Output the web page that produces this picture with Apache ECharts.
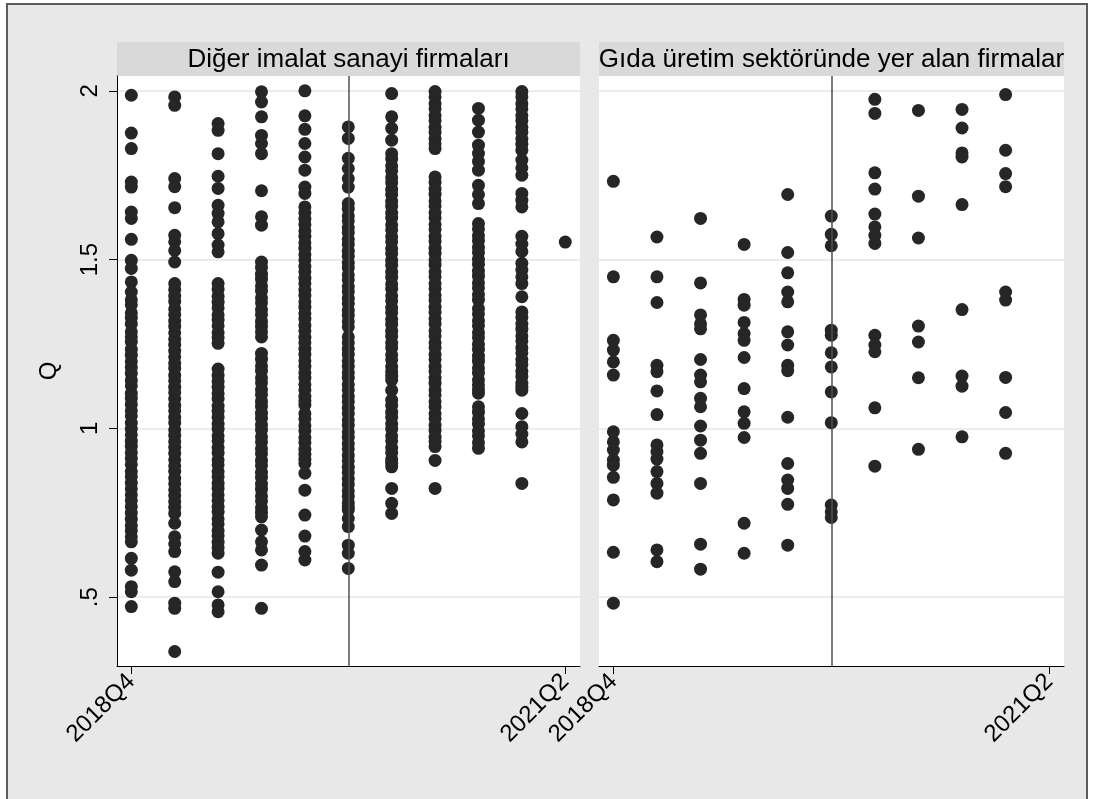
<!DOCTYPE html>
<html>
<head>
<meta charset="utf-8">
<script src="https://cdn.jsdelivr.net/npm/echarts@6/dist/echarts.min.js"></script>
<style>
  body { margin: 0; background: #fff; }
  #frame { position: absolute; left: 6px; top: 3px; width: 1082px; height: 820px; background: #e8e8e8; border: 2px solid #5c5c5c; box-sizing: border-box; }
  #chart { position: absolute; left: 0; top: 0; width: 1093px; height: 799px; }
</style>
</head>
<body>
<div id="frame"></div>
<div id="chart"></div>
<script>
// quarters on the x axis (0 = 2018Q4)
var quarters = ['2018Q4','2019Q1','2019Q2','2019Q3','2019Q4','2020Q1','2020Q2','2020Q3','2020Q4','2021Q1','2021Q2'];
var xTicks = [0, 10];
var yTicks = [0.5, 1, 1.5, 2];
var breakQuarter = 5; // 2020Q1
var panelTitles = ['Diğer imalat sanayi firmaları', 'Gıda üretim sektöründe yer alan firmalar'];

// Q by quarter, other manufacturing firms
var diger = [
  [1.987,1.875,1.829,1.730,1.715,1.641,1.622,1.560,1.498,1.474,1.434,1.404,1.381,1.366,1.342,1.327,1.309,1.286,1.271,1.256,1.234,1.217,1.198,1.181,1.163,1.142,1.126,1.104,1.089,1.071,1.052,1.037,1.016,0.998,0.981,0.962,0.947,0.928,0.911,0.893,0.872,0.857,0.838,0.821,0.803,0.786,0.768,0.749,0.731,0.712,0.697,0.679,0.664,0.615,0.580,0.531,0.516,0.472],
  [1.982,1.957,1.740,1.716,1.654,1.572,1.553,1.527,1.493,1.429,1.411,1.392,1.376,1.354,1.337,1.318,1.302,1.283,1.264,1.247,1.229,1.212,1.193,1.178,1.157,1.141,1.122,1.106,1.087,1.068,1.052,1.033,1.017,0.996,0.979,0.961,0.944,0.926,0.907,0.889,0.873,0.852,0.836,0.818,0.801,0.783,0.766,0.748,0.719,0.679,0.658,0.635,0.575,0.546,0.482,0.467,0.339],
  [1.903,1.883,1.814,1.747,1.711,1.661,1.637,1.612,1.577,1.543,1.523,1.429,1.412,1.391,1.374,1.357,1.336,1.321,1.304,1.284,1.269,1.252,1.176,1.157,1.139,1.122,1.103,1.087,1.066,1.051,1.033,1.013,0.998,0.978,0.963,0.943,0.927,0.907,0.892,0.872,0.857,0.837,0.822,0.803,0.786,0.767,0.752,0.732,0.717,0.697,0.682,0.663,0.647,0.630,0.574,0.516,0.477,0.457],
  [1.997,1.967,1.923,1.868,1.844,1.814,1.704,1.627,1.602,1.493,1.477,1.457,1.442,1.422,1.407,1.387,1.372,1.352,1.337,1.317,1.302,1.286,1.271,1.222,1.205,1.185,1.170,1.150,1.135,1.115,1.100,1.080,1.065,1.045,1.030,1.010,0.995,0.975,0.960,0.940,0.925,0.905,0.890,0.870,0.855,0.835,0.820,0.800,0.785,0.765,0.751,0.738,0.699,0.664,0.640,0.595,0.467],
  [2.000,1.926,1.886,1.844,1.804,1.765,1.715,1.696,1.656,1.639,1.620,1.604,1.585,1.569,1.550,1.534,1.515,1.499,1.480,1.464,1.445,1.429,1.410,1.394,1.375,1.359,1.340,1.324,1.305,1.289,1.270,1.254,1.235,1.219,1.200,1.184,1.165,1.149,1.130,1.114,1.095,1.082,1.069,1.044,1.028,1.008,0.993,0.973,0.958,0.938,0.923,0.908,0.896,0.867,0.817,0.743,0.681,0.635,0.610],
  [1.893,1.859,1.800,1.770,1.740,1.715,1.666,1.650,1.630,1.615,1.595,1.580,1.560,1.545,1.525,1.510,1.490,1.475,1.455,1.440,1.420,1.405,1.385,1.370,1.350,1.335,1.316,1.301,1.271,1.254,1.235,1.219,1.200,1.184,1.165,1.149,1.130,1.114,1.095,1.079,1.060,1.044,1.025,1.009,0.990,0.974,0.955,0.939,0.920,0.904,0.885,0.869,0.850,0.834,0.815,0.799,0.780,0.768,0.758,0.733,0.709,0.654,0.630,0.585],
  [1.992,1.923,1.889,1.854,1.814,1.798,1.778,1.763,1.743,1.728,1.708,1.693,1.673,1.658,1.638,1.623,1.603,1.588,1.568,1.553,1.533,1.518,1.498,1.483,1.463,1.448,1.428,1.413,1.393,1.378,1.358,1.343,1.323,1.308,1.288,1.273,1.253,1.238,1.218,1.203,1.183,1.168,1.155,1.143,1.113,1.084,1.068,1.048,1.033,1.013,0.998,0.978,0.963,0.943,0.928,0.908,0.897,0.886,0.822,0.778,0.748],
  [1.998,1.982,1.962,1.947,1.927,1.912,1.892,1.877,1.857,1.843,1.829,1.745,1.729,1.709,1.694,1.674,1.659,1.639,1.624,1.604,1.589,1.569,1.554,1.534,1.519,1.499,1.484,1.464,1.449,1.429,1.414,1.394,1.379,1.359,1.344,1.324,1.309,1.289,1.274,1.254,1.239,1.219,1.204,1.184,1.169,1.149,1.134,1.114,1.099,1.079,1.064,1.044,1.029,1.009,0.994,0.974,0.961,0.946,0.905,0.822],
  [1.948,1.913,1.878,1.839,1.815,1.791,1.765,1.720,1.693,1.666,1.607,1.591,1.571,1.556,1.536,1.521,1.501,1.486,1.466,1.451,1.431,1.416,1.396,1.380,1.355,1.339,1.319,1.304,1.284,1.269,1.249,1.234,1.214,1.199,1.179,1.164,1.144,1.129,1.115,1.104,1.064,1.048,1.028,1.013,0.993,0.978,0.958,0.941],
  [1.998,1.982,1.962,1.947,1.927,1.912,1.892,1.877,1.857,1.842,1.824,1.795,1.772,1.750,1.696,1.676,1.656,1.569,1.546,1.524,1.489,1.469,1.449,1.429,1.390,1.345,1.329,1.309,1.294,1.274,1.259,1.239,1.224,1.204,1.189,1.169,1.154,1.134,1.122,1.113,1.044,1.005,0.983,0.960,0.837],
  [1.552]
];

// Q by quarter, food production firms
var gida = [
  [1.732,1.449,1.261,1.232,1.197,1.158,0.990,0.960,0.936,0.906,0.891,0.855,0.788,0.633,0.482],
  [1.567,1.449,1.373,1.187,1.168,1.111,1.041,0.951,0.931,0.909,0.872,0.837,0.808,0.640,0.605],
  [1.622,1.431,1.336,1.310,1.295,1.204,1.158,1.138,1.089,1.064,1.007,0.965,0.926,0.837,0.657,0.583],
  [1.545,1.382,1.365,1.314,1.281,1.261,1.210,1.118,1.049,1.015,0.973,0.719,0.630],
  [1.693,1.521,1.461,1.404,1.375,1.286,1.247,1.187,1.171,1.033,0.896,0.847,0.822,0.775,0.654],
  [1.629,1.575,1.541,1.291,1.276,1.224,1.182,1.108,1.017,0.773,0.753,0.736],
  [1.975,1.933,1.757,1.709,1.635,1.597,1.572,1.548,1.276,1.247,1.227,1.061,0.888],
  [1.942,1.688,1.564,1.303,1.256,1.150,0.938],
  [1.945,1.890,1.816,1.804,1.663,1.352,1.155,1.125,0.975],
  [1.989,1.824,1.755,1.716,1.404,1.380,1.151,1.047,0.926],
  []
];

var font = '"Liberation Sans", Arial, sans-serif';
var dotColor = '#262626';

function points(groups) {
  var out = [];
  groups.forEach(function (vals, q) {
    vals.forEach(function (v) { out.push([q, v]); });
  });
  return out;
}

var panels = [
  { left: 117, width: 463 },
  { left: 599, width: 465 }
];
var plotTop = 76, plotHeight = 590, stripTop = 42;

function xAxisFor(i) {
  return {
    type: 'value', gridIndex: i, min: -0.33, max: 10.34,
    axisLine: { show: true, onZero: false, lineStyle: { color: '#000', width: 1 } },
    axisTick: { show: true, length: 8, customValues: xTicks, lineStyle: { color: '#000', width: 1 } },
    axisLabel: {
      show: true, customValues: xTicks, rotate: 45, margin: 12,
      fontFamily: font, fontSize: 24, color: '#000',
      formatter: function (v) { return quarters[Math.round(v)]; }
    },
    splitLine: { show: false }
  };
}

function yAxisFor(i) {
  var first = i === 0;
  return {
    type: 'value', gridIndex: i, min: 0.296, max: 2.044,
    name: first ? 'Q' : '', nameLocation: 'middle', nameGap: 56, nameRotate: 90,
    nameMoveOverlap: false,
    nameTextStyle: { fontFamily: font, fontSize: 24, color: '#000' },
    axisLine: { show: first, onZero: false, lineStyle: { color: '#000', width: 1 } },
    axisTick: { show: first, length: 8, customValues: yTicks, lineStyle: { color: '#000', width: 1 } },
    axisLabel: {
      show: first, customValues: yTicks, rotate: 90, margin: 15,
      fontFamily: font, fontSize: 24, color: '#000',
      formatter: function (v) { return String(v).replace(/^0\./, '.'); }
    },
    splitLine: { show: true, lineStyle: { color: '#e6e6e6', width: 1.5 } }
  };
}

function seriesFor(i, groups) {
  return {
    type: 'scatter', xAxisIndex: i, yAxisIndex: i,
    data: points(groups),
    symbol: 'circle', symbolSize: 13,
    itemStyle: { color: dotColor, opacity: 1 },
    markLine: {
      silent: true, symbol: ['none', 'none'],
      label: { show: false },
      lineStyle: { color: '#505050', width: 1.5, type: 'solid' },
      data: [{ xAxis: breakQuarter }]
    }
  };
}

var graphics = [];
panels.forEach(function (p, i) {
  graphics.push({
    type: 'rect', x: p.left, y: stripTop,
    shape: { x: 0, y: 0, width: p.width, height: plotTop - stripTop },
    style: { fill: '#d9d9d9' }
  });
  graphics.push({
    type: 'text', x: p.left + p.width / 2, y: stripTop + (plotTop - stripTop) / 2 + 1,
    style: {
      text: panelTitles[i], font: '26px ' + font, fill: '#000',
      align: 'center', verticalAlign: 'middle'
    }
  });
});

var chart = echarts.init(document.getElementById('chart'), null, { renderer: 'canvas' });
chart.setOption({
  animation: false,
  backgroundColor: 'transparent',
  grid: panels.map(function (p) {
    return {
      left: p.left, top: plotTop, width: p.width, height: plotHeight,
      show: true, backgroundColor: '#fff', borderWidth: 0,
      outerBoundsMode: 'none', containLabel: false
    };
  }),
  xAxis: [xAxisFor(0), xAxisFor(1)],
  yAxis: [yAxisFor(0), yAxisFor(1)],
  series: [seriesFor(0, diger), seriesFor(1, gida)],
  graphic: graphics
});
</script>
</body>
</html>
